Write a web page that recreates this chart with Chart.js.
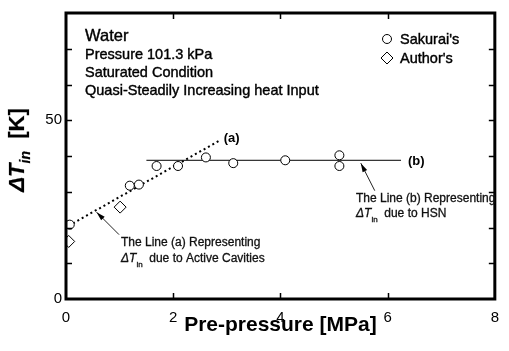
<!DOCTYPE html>
<html>
<head>
<meta charset="utf-8">
<script src="https://cdn.jsdelivr.net/npm/chart.js@4/dist/chart.umd.min.js"></script>
<style>
html, body { margin: 0; padding: 0; background: #fff; }
canvas { display: block; }
</style>
</head>
<body>
<canvas id="myChart" width="509" height="351"></canvas>
<script>
// Sakurai's data
const sakuraiX = [0.07, 1.19, 1.36, 1.69, 2.09, 2.61, 3.12, 4.09, 5.10, 5.10];
const sakuraiY = [20.8, 31.7, 32.0, 37.2, 37.2, 39.6, 38.0, 38.8, 40.2, 37.2];
// Author's data
const authorX = [0.05, 1.01];
const authorY = [16.1, 25.7];
// Line (a) - active cavities, Line (b) - HSN
const lineAX = [0.05, 2.85];
const lineAY = [20.5, 44.2];
const lineBX = [1.5, 6.25];
const lineBY = [38.8, 38.8];
// arrows, tail then tip
const arrowAX = [0.99, 0.57];
const arrowAY = [18.0, 24.3];
const arrowBX = [5.76, 5.50];
const arrowBY = [30.3, 38.0];
// ticks
const xTickValues = [0, 2, 4, 6, 8];
const yTickLabels = [0, 50];

const FONT = 'Arial, "Liberation Sans", sans-serif';

function pts(xs, ys) {
    return xs.map((v, i) => ({x: v, y: ys[i]}));
}

// slightly heavier text, the scan looks a bit bolder than plain Arial
function heavyText(ctx, t, x, y) {
    ctx.fillText(t, x, y);
    ctx.strokeText(t, x, y);
}

// draws text made of parts with different fonts / baseline shifts
function richText(ctx, parts, x, y) {
    let cx = x;
    parts.forEach(p => {
        ctx.font = p.font;
        heavyText(ctx, p.t, cx, y + (p.dy || 0));
        cx += ctx.measureText(p.t).width;
    });
    return cx - x;
}
function richWidth(ctx, parts) {
    let w = 0;
    parts.forEach(p => { ctx.font = p.font; w += ctx.measureText(p.t).width; });
    return w;
}

const decor = {
    id: 'decor',
    afterDraw(chart) {
        const {ctx, chartArea: a, scales: {x, y}} = chart;
        ctx.save();
        ctx.strokeStyle = '#000';
        ctx.fillStyle = '#000';

        // inward ticks
        ctx.lineWidth = 1.5;
        ctx.beginPath();
        [2, 4, 6].forEach(v => {
            const px = Math.round(x.getPixelForValue(v)) + 0.5;
            ctx.moveTo(px, a.bottom); ctx.lineTo(px, a.bottom - 6);
            ctx.moveTo(px, a.top); ctx.lineTo(px, a.top + 6);
        });
        for (let v = 10; v < 80; v += 10) {
            const py = Math.round(y.getPixelForValue(v)) + 0.5;
            ctx.moveTo(a.left, py); ctx.lineTo(a.left + 6, py);
            ctx.moveTo(a.right, py); ctx.lineTo(a.right - 6, py);
        }
        ctx.stroke();

        // frame
        ctx.lineWidth = 3;
        ctx.strokeRect(a.left, a.top, a.right - a.left, a.bottom - a.top);

        // arrow heads
        [[arrowAX, arrowAY], [arrowBX, arrowBY]].forEach(([ax, ay]) => {
            const x0 = x.getPixelForValue(ax[0]), y0 = y.getPixelForValue(ay[0]);
            const x1 = x.getPixelForValue(ax[1]), y1 = y.getPixelForValue(ay[1]);
            const ang = Math.atan2(y1 - y0, x1 - x0);
            ctx.beginPath();
            ctx.moveTo(x1, y1);
            ctx.lineTo(x1 - 9 * Math.cos(ang) + 2.5 * Math.sin(ang), y1 - 9 * Math.sin(ang) - 2.5 * Math.cos(ang));
            ctx.lineTo(x1 - 9 * Math.cos(ang) - 2.5 * Math.sin(ang), y1 - 9 * Math.sin(ang) + 2.5 * Math.cos(ang));
            ctx.closePath();
            ctx.fill();
        });

        ctx.textBaseline = 'alphabetic';
        ctx.textAlign = 'left';
        ctx.lineWidth = 0.4;

        // header text
        const hx = a.left + 19;
        ctx.font = '16.5px ' + FONT;
        heavyText(ctx, 'Water', hx, a.top + 28);
        ctx.font = '14.5px ' + FONT;
        heavyText(ctx, 'Pressure 101.3 kPa', hx, a.top + 46);
        heavyText(ctx, 'Saturated Condition', hx, a.top + 64);
        heavyText(ctx, 'Quasi-Steadily Increasing heat Input', hx, a.top + 82);

        // legend
        const lx = 387;
        ctx.lineWidth = 1;
        ctx.beginPath();
        ctx.arc(lx, 39, 4.5, 0, Math.PI * 2);
        ctx.stroke();
        ctx.beginPath();
        ctx.moveTo(lx, 52); ctx.lineTo(lx + 6, 58); ctx.lineTo(lx, 64); ctx.lineTo(lx - 6, 58);
        ctx.closePath();
        ctx.stroke();
        ctx.lineWidth = 0.4;
        ctx.font = '14.5px ' + FONT;
        heavyText(ctx, "Sakurai's", 400, 44);
        heavyText(ctx, "Author's", 400, 63);

        // line labels
        ctx.font = 'bold 13px ' + FONT;
        ctx.fillText('(a)', x.getPixelForValue(lineAX[1]) + 5, y.getPixelForValue(lineAY[1]) + 1);
        ctx.fillText('(b)', x.getPixelForValue(lineBX[1]) + 7, y.getPixelForValue(lineBY[1]) + 5);

        // annotations
        const small = '12px ' + FONT;
        const dT = [
            {t: '\u0394T', font: 'italic 12px ' + FONT},
            {t: 'in', font: '8px ' + FONT, dy: 5},
            {t: '  ', font: small}
        ];
        ctx.fillStyle = '#111';
        ctx.strokeStyle = '#111';
        ctx.lineWidth = 0.3;
        ctx.font = small;
        heavyText(ctx, 'The Line (a) Representing', 121, 246);
        richText(ctx, dT.concat([{t: 'due to Active Cavities', font: small}]), 121, 262);
        ctx.font = small;
        heavyText(ctx, 'The Line (b) Representing', 356, 202);
        richText(ctx, dT.concat([{t: 'due to HSN', font: small}]), 356, 217);

        // y axis title, rotated
        const yt = [
            {t: '\u0394T', font: 'italic bold 22px ' + FONT},
            {t: 'in', font: 'italic bold 14px ' + FONT, dy: 6},
            {t: '  [K]', font: 'bold 22px ' + FONT}
        ];
        ctx.fillStyle = '#000';
        ctx.strokeStyle = '#000';
        ctx.lineWidth = 0.2;
        const w = richWidth(ctx, yt);
        ctx.translate(24, 150);
        ctx.rotate(-Math.PI / 2);
        richText(ctx, yt, -w / 2, 0);
        ctx.restore();
    }
};

const ctx = document.getElementById('myChart').getContext('2d');
const myChart = new Chart(ctx, {
    type: 'scatter',
    data: {
        datasets: [
            {
                label: "Sakurai's",
                data: pts(sakuraiX, sakuraiY),
                pointStyle: 'circle',
                pointRadius: 4.5,
                pointBorderWidth: 1,
                borderColor: '#000',
                backgroundColor: '#fff'
            },
            {
                label: "Author's",
                data: pts(authorX, authorY),
                pointStyle: 'rectRot',
                pointRadius: 6,
                pointBorderWidth: 1,
                borderColor: '#000',
                backgroundColor: '#fff'
            },
            {
                label: 'line a',
                data: pts(lineAX, lineAY),
                showLine: true,
                pointRadius: 0,
                borderColor: '#000',
                borderWidth: 2,
                borderDash: [2, 3]
            },
            {
                label: 'line b',
                data: pts(lineBX, lineBY),
                showLine: true,
                pointRadius: 0,
                borderColor: '#000',
                borderWidth: 1
            },
            {
                label: 'arrow a',
                data: pts(arrowAX, arrowAY),
                showLine: true,
                pointRadius: 0,
                borderColor: '#222',
                borderWidth: 1
            },
            {
                label: 'arrow b',
                data: pts(arrowBX, arrowBY),
                showLine: true,
                pointRadius: 0,
                borderColor: '#222',
                borderWidth: 1
            }
        ]
    },
    options: {
        responsive: false,
        animation: false,
        devicePixelRatio: 1,
        layout: { padding: { top: 6, right: 7, left: 0, bottom: 0 } },
        plugins: {
            legend: { display: false },
            tooltip: { enabled: false }
        },
        scales: {
            x: {
                type: 'linear',
                min: 0,
                max: 8,
                afterFit: s => { s.height = 52; },
                afterBuildTicks: s => { s.ticks = xTickValues.map(v => ({value: v})); },
                grid: { display: false, drawTicks: false },
                border: { display: false },
                ticks: {
                    color: '#000',
                    padding: 10,
                    font: { family: FONT, size: 15 }
                },
                title: {
                    display: true,
                    text: 'Pre-pressure [MPa]',
                    color: '#000',
                    font: { family: FONT, size: 21, weight: 'bold' },
                    padding: { top: 0, bottom: 13 }
                }
            },
            y: {
                type: 'linear',
                min: 0,
                max: 80,
                afterFit: s => { s.width = 66; },
                afterBuildTicks: s => { s.ticks = yTickLabels.map(v => ({value: v})); },
                grid: { display: false, drawTicks: false },
                border: { display: false },
                ticks: {
                    color: '#000',
                    padding: 4,
                    font: { family: FONT, size: 15 }
                }
            }
        }
    },
    plugins: [decor]
});
</script>
</body>
</html>
